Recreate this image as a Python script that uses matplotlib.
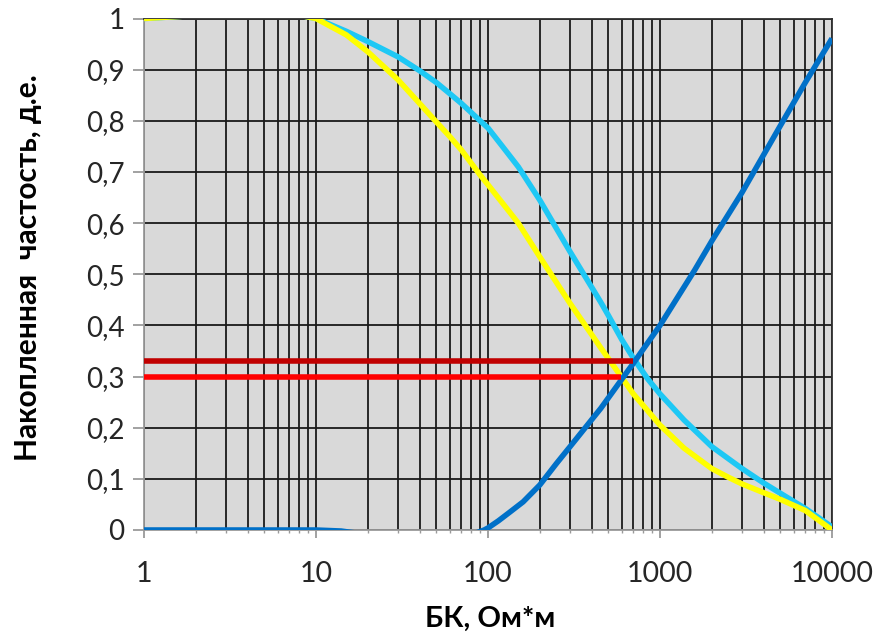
import numpy as np
import matplotlib.pyplot as plt
from matplotlib.ticker import FixedLocator, NullFormatter

# --- data (BK resistivity vs cumulative frequency) ---
x_cyan = [1, 2, 5, 10, 15, 20, 30, 40, 50, 60, 70, 80, 90, 100, 120, 150, 200,
          300, 400, 453, 500, 600, 700, 850, 1000, 1380, 2000, 3000, 4000, 5000,
          7000, 10000]
y_cyan = [1.0, 1.006, 1.02, 1.0, 0.975, 0.955, 0.925, 0.898, 0.875, 0.853,
          0.834, 0.816, 0.80, 0.786, 0.752, 0.71, 0.645, 0.544, 0.475, 0.445,
          0.42, 0.372, 0.336, 0.295, 0.266, 0.215, 0.163, 0.12, 0.092, 0.072,
          0.042, 0.006]

x_yellow = [1, 2, 5, 10, 15, 20, 30, 40, 50, 60, 70, 90, 100, 150, 200, 300, 453,
            600, 700, 1000, 1380, 2000, 2500, 3000, 4000, 5000, 7000, 10000]
y_yellow = [1.0, 1.006, 1.02, 1.0, 0.968, 0.935, 0.88, 0.834, 0.798, 0.769,
            0.743, 0.694, 0.675, 0.60, 0.534, 0.443, 0.356, 0.298, 0.266, 0.205,
            0.16, 0.12, 0.103, 0.09, 0.073, 0.06, 0.038, 0.0]

x_blue = [1, 10, 14, 18, 30, 60, 85, 95, 100, 115, 134, 160, 200, 250, 300, 453,
          700, 1000, 1590, 2000, 3000, 5000, 7000, 10000]
y_blue = [0.0, 0.0, -0.002, -0.007, -0.02, -0.02, -0.006, 0.0, 0.004, 0.018,
          0.035, 0.055, 0.088, 0.13, 0.163, 0.238, 0.326, 0.40, 0.508, 0.565,
          0.66, 0.79, 0.875, 0.961]

# red reference levels and where they end on the x axis
red_levels = [0.33, 0.30]
red_ends = [700, 590]
red_colors = ['#c00000', '#ff0000']

x_major = [1, 10, 100, 1000, 10000]
x_labels = ['1', '10', '100', '1000', '10000']
y_ticks = np.round(np.arange(0, 1.01, 0.1), 1)
y_labels = [('%g' % v).replace('.', ',') for v in y_ticks]

plt.rcParams['font.family'] = ['Lato', 'DejaVu Sans']

fig = plt.figure(figsize=(8.9, 6.39), dpi=100)
fig.patch.set_facecolor('white')
ax = fig.add_axes([144 / 890, 109 / 639, 688 / 890, 511.5 / 639])
ax.set_facecolor('#d9d9d9')

ax.set_xscale('log')
ax.set_xlim(1, 10000)
ax.set_ylim(0, 1)

# grid: every log minor position plus 0.1 steps
minor = [m * 10 ** d for d in range(4) for m in range(2, 10)]
ax.xaxis.set_major_locator(FixedLocator(x_major))
ax.xaxis.set_minor_locator(FixedLocator(minor))
ax.xaxis.set_minor_formatter(NullFormatter())
ax.set_xticklabels(x_labels)
ax.set_yticks(y_ticks)
ax.set_yticklabels(y_labels)
ax.grid(True, which='both', axis='x', color='#1a1a1a', lw=1.3)
ax.grid(True, which='major', axis='y', color='#1a1a1a', lw=1.3)
ax.set_axisbelow(True)

ax.plot(x_cyan, y_cyan, color='#1ec8f5', lw=4, solid_capstyle='butt',
        solid_joinstyle='round', zorder=3)
ax.plot(x_yellow, y_yellow, color='#ffff00', lw=4, solid_capstyle='butt',
        solid_joinstyle='round', zorder=4)
ax.plot(x_blue, y_blue, color='#0070c8', lw=4, solid_capstyle='butt',
        solid_joinstyle='round', zorder=5)
for lvl, xe, c in zip(red_levels, red_ends, red_colors):
    ax.plot([1, xe], [lvl, lvl], color=c, lw=4, solid_capstyle='butt', zorder=6)

for side in ['left', 'bottom']:
    ax.spines[side].set_color('#9a9a9a')
    ax.spines[side].set_linewidth(1.3)
for side in ['top', 'right']:
    ax.spines[side].set_color('#303030')
    ax.spines[side].set_linewidth(1.3)

ax.tick_params(axis='y', which='major', length=8, width=1.3, color='#9a9a9a',
               pad=6, labelsize=20, labelcolor='#262626')
ax.tick_params(axis='x', which='major', length=6, width=1.3, color='#9a9a9a',
               pad=16, labelsize=20.5, labelcolor='#262626')
ax.tick_params(axis='x', which='minor', length=2, width=1, color='#9a9a9a')

ax.set_xlabel('БК, Ом*м', fontsize=21, fontweight='bold')
ax.set_ylabel('Накопленная  частость, д.е.', fontsize=21.5, fontweight='bold')
ax.xaxis.set_label_coords(0.503, -0.148)
ax.yaxis.set_label_coords(-0.148, 0.512)

fig.savefig('out.png', dpi=100)
